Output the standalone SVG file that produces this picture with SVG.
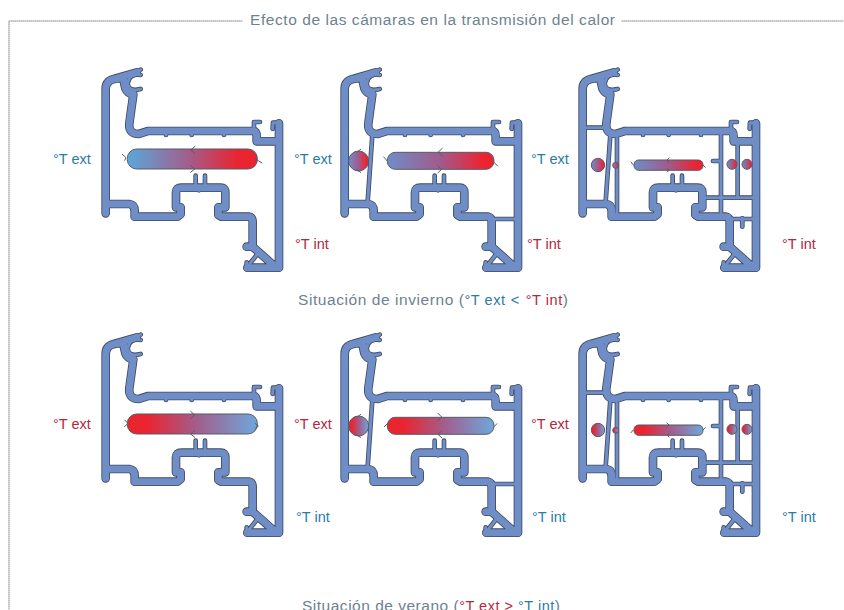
<svg xmlns="http://www.w3.org/2000/svg" xmlns:xlink="http://www.w3.org/1999/xlink" width="844" height="610" viewBox="0 0 844 610">
<style>
text{font-family:"Liberation Sans",Arial,sans-serif;font-size:14.5px}
.head{font-size:15.5px;fill:#6c8290}
.b{fill:#2b7ba6}.r{fill:#b3283f}
.frame{fill:none;stroke:#8a8f92;stroke-width:1;stroke-dasharray:1 1}
path{fill:none;stroke-linejoin:round;stroke-linecap:round}
.to{stroke:#3f4a5e;stroke-width:26}
.tf{stroke:#6f8dc7;stroke-width:21}
.no{stroke:#3f4a5e;stroke-width:14}
.nf{stroke:#6f8dc7;stroke-width:9}
.bar{stroke:#555b66;stroke-width:3}
.tick{stroke:#555b66;stroke-width:3;fill:none}
</style>
<defs>
<linearGradient id="w1"><stop offset="0" stop-color="#5aa8dc"/><stop offset=".45" stop-color="#a0608f"/><stop offset=".85" stop-color="#ea2430"/><stop offset="1" stop-color="#e8252f"/></linearGradient>
<linearGradient id="w2"><stop offset="0" stop-color="#6f8dc7"/><stop offset=".5" stop-color="#a25a8c"/><stop offset=".9" stop-color="#ee2230"/><stop offset="1" stop-color="#e8252f"/></linearGradient>
<linearGradient id="s1"><stop offset="0" stop-color="#e8252f"/><stop offset=".15" stop-color="#ea2430"/><stop offset=".55" stop-color="#a0608f"/><stop offset="1" stop-color="#6fa8dc"/></linearGradient>
<g id="thick">
<path d="M140,52 L72,72 Q47,78 47,102 L47,475 M70,72 L100,68 M47,447 L118,447 Q134,449 134,468 L134,485 L262,485 L272,478 L272,457 L258,457 L258,412 Q258,398 274,398 L392,398 Q406,398 406,412 L406,457 L385,457 L385,480 L394,485 L478,485 Q488,487 488,502 L488,575 M567,205 L567,638 L472,638 M100,72 L106,100 Q112,115 130,118 M130,118 L118,205 Q115,237 147,237 L175,228 L490,228 Q500,228 500,245 L500,259 L567,259 M470,575 L488,575 L552,632"/>
</g>
<g id="thin">
<path d="M152,44 L140,52 M152,60 Q120,52 113,85 Q115,112 152,102 M492,228 L492,201 L510,201 M567,203 L549,203 L548,222 M317,362 L317,398 M345,362 L345,398 M478,628 L500,600 M470,638 L470,622 M228,238 L228,240 M305,236 L305,240 M402,238 L402,240 M327,400 L327,406"/>
</g>
<g id="thin2"><use xlink:href="#thin"/><path d="M130,240 L116,440 M488,492 L567,492"/></g>
<g id="thin3"><use xlink:href="#thin2"/><path d="M47,218 L110,218 M150,250 L150,478 M462,238 L462,484 M512,262 L512,428 M405,428 L560,428 M438,318 L462,318 M526,490 L526,515"/></g>
</defs>

<g id="frame">
<path class="frame" d="M242,21 H9 V610 M622,21 H844"/>
<text class="head" x="250" y="25" textLength="365">Efecto de las cámaras en la transmisión del calor</text>
</g>

<g id="connectors"></g>

<g id="winter-1" transform="translate(90,55) scale(.3333)">
<use xlink:href="#thick" class="to"/><use xlink:href="#thin" class="no"/><use xlink:href="#thick" class="tf"/><use xlink:href="#thin" class="nf"/>
<rect class="bar" x="112" y="282" width="390" height="60" rx="28" fill="url(#w1)"/>
<path class="tick" d="M315,274 L302,285 L315,296 M302,332 L314,342 L302,352 M97,298 L108,308 L104,316 M495,310 L506,318 L516,324"/>
</g>
<g id="winter-2" transform="translate(329,55) scale(.3333)">
<use xlink:href="#thick" class="to"/><use xlink:href="#thin2" class="no"/><use xlink:href="#thick" class="tf"/><use xlink:href="#thin2" class="nf"/>
<circle class="bar" cx="89" cy="318" r="30" fill="url(#w2)"/>
<rect class="bar" x="175" y="292" width="320" height="51" rx="24" fill="url(#w2)"/>
<path class="tick" d="M340,280 L328,291 L340,302 M327,333 L338,343 L327,353 M164,306 L175,318 M495,322 L506,333 M84,292 L95,283 M82,344 L95,352"/>
</g>
<g id="winter-3" transform="translate(567,55) scale(.3333)">
<use xlink:href="#thick" class="to"/><use xlink:href="#thin3" class="no"/><use xlink:href="#thick" class="tf"/><use xlink:href="#thin3" class="nf"/>
<circle class="bar" cx="93" cy="330" r="20" fill="url(#w2)"/><circle class="bar" cx="146" cy="331" r="9" fill="url(#w2)"/>
<circle class="bar" cx="495" cy="328" r="15" fill="url(#w2)"/><circle class="bar" cx="540" cy="328" r="15" fill="url(#w2)"/>
<rect class="bar" x="201" y="315" width="207" height="31" rx="14" fill="url(#w2)"/>
<path class="tick" d="M306,309 L300,315 L306,321 M301,341 L306,346 L301,351 M192,321 L199,330 M408,330 L415,337"/>
</g>

<g id="summer-1" transform="translate(90,320) scale(.3333)">
<use xlink:href="#thick" class="to"/><use xlink:href="#thin" class="no"/><use xlink:href="#thick" class="tf"/><use xlink:href="#thin" class="nf"/>
<rect class="bar" x="112" y="282" width="390" height="60" rx="28" fill="url(#s1)"/>
<path class="tick" d="M302,274 L314,285 L302,296 M314,332 L302,342 L314,352 M104,300 L114,310 L104,320 M495,310 L505,318 L495,326"/>
</g>
<g id="summer-2" transform="translate(329,320) scale(.3333)">
<use xlink:href="#thick" class="to"/><use xlink:href="#thin2" class="no"/><use xlink:href="#thick" class="tf"/><use xlink:href="#thin2" class="nf"/>
<circle class="bar" cx="89" cy="318" r="30" fill="url(#s1)"/>
<rect class="bar" x="175" y="292" width="320" height="51" rx="24" fill="url(#s1)"/>
<path class="tick" d="M327,280 L338,291 L327,302 M338,333 L327,343 L338,353 M166,320 L175,311 M495,320 L504,311 M84,292 L95,283 M82,344 L95,352"/>
</g>
<g id="summer-3" transform="translate(567,320) scale(.3333)">
<use xlink:href="#thick" class="to"/><use xlink:href="#thin3" class="no"/><use xlink:href="#thick" class="tf"/><use xlink:href="#thin3" class="nf"/>
<circle class="bar" cx="93" cy="330" r="20" fill="url(#s1)"/><circle class="bar" cx="146" cy="331" r="9" fill="url(#s1)"/>
<circle class="bar" cx="495" cy="328" r="15" fill="url(#s1)"/><circle class="bar" cx="540" cy="328" r="15" fill="url(#s1)"/>
<rect class="bar" x="201" y="315" width="207" height="31" rx="14" fill="url(#s1)"/>
<path class="tick" d="M300,309 L306,315 L300,321 M306,341 L301,346 L306,351 M192,338 L199,330 M408,330 L415,323"/>
</g>

<g id="labels-winter">
<text class="b" x="53" y="164">°T ext</text><text class="b" x="294" y="164">°T ext</text><text class="b" x="531" y="164">°T ext</text>
<text class="r" x="295" y="249">°T int</text><text class="r" x="527" y="249">°T int</text><text class="r" x="782" y="249">°T int</text>
<text class="head" x="298" y="305" textLength="270">Situación de invierno (<tspan class="b" font-size="14.5">°T ext</tspan><tspan class="b" font-size="14.5" dx="5">&lt;</tspan><tspan class="r" font-size="14.5" dx="6">°T int</tspan>)</text>
</g>
<g id="labels-summer">
<text class="r" x="53" y="429">°T ext</text><text class="r" x="294" y="429">°T ext</text><text class="r" x="531" y="429">°T ext</text>
<text class="b" x="296" y="522">°T int</text><text class="b" x="532" y="522">°T int</text><text class="b" x="782" y="522">°T int</text>
<text class="head" x="302" y="611" textLength="258">Situación de verano (<tspan class="r" font-size="14.5">°T ext &gt; </tspan><tspan class="b" font-size="14.5">°T int</tspan>)</text>
</g>
</svg>
